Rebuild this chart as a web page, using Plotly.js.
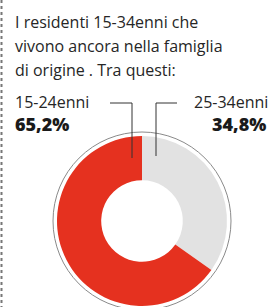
<!DOCTYPE html>
<html>
<head>
<meta charset="utf-8">
<script src="https://cdn.plot.ly/plotly-3.0.1.min.js"></script>
<style>html,body{margin:0;padding:0;background:#fff;}#chart{width:271px;height:307px;}</style>
</head>
<body>
<div id="chart"></div>
<script>
const titleLines = ["I residenti 15-34enni che", "vivono ancora nella famiglia", "di origine . Tra questi:"];
const categories = ["15-24enni", "25-34enni"];
const values = [65.2, 34.8];
const valueLabels = ["65,2%", "34,8%"];
const colors = ["#e5311f", "#e2e2e2"];

const font = "Open Sans, Roboto, sans-serif";
const txt = "#262626";

const annotations = [];
titleLines.forEach((t, i) => {
  annotations.push({xref: 'x', yref: 'y', x: 13, y: 22 + i * 24, text: t, showarrow: false,
    xanchor: 'left', yanchor: 'middle', font: {family: font, size: 16, color: txt}});
});
annotations.push({xref: 'x', yref: 'y', x: 13, y: 102, text: categories[0], showarrow: false,
  xanchor: 'left', yanchor: 'middle', font: {family: font, size: 16, color: txt}});
annotations.push({xref: 'x', yref: 'y', x: 13, y: 124, text: valueLabels[0], showarrow: false,
  xanchor: 'left', yanchor: 'middle', font: {family: font, size: 18, color: '#1a1a1a', weight: 800}});
annotations.push({xref: 'x', yref: 'y', x: 270, y: 102, text: categories[1], showarrow: false,
  xanchor: 'right', yanchor: 'middle', font: {family: font, size: 16, color: txt}});
annotations.push({xref: 'x', yref: 'y', x: 268, y: 124, text: valueLabels[1], showarrow: false,
  xanchor: 'right', yanchor: 'middle', font: {family: font, size: 18, color: '#1a1a1a', weight: 800}});

const shapes = [
  {type: 'line', xref: 'x', yref: 'y', x0: 1.5, x1: 1.5, y0: 0, y1: 307, line: {color: '#777', width: 2, dash: 'dot'}},
  {type: 'circle', xref: 'x', yref: 'y', x0: 53, x1: 231, y0: 132, y1: 310, line: {color: '#8a8a8a', width: 1}, layer: 'below'},
  {type: 'path', xref: 'x', yref: 'y', path: 'M110,103 L132,103 L132,158', line: {color: '#333', width: 1}},
  {type: 'path', xref: 'x', yref: 'y', path: 'M177,103 L156,103 L156,156', line: {color: '#333', width: 1}}
];

// Plotly's counterclockwise mode places the first slice clockwise of 12 o'clock,
// so feed the slices in reverse order: 25-34 on the right, 15-24 on the left.
const data = [{
  type: 'pie',
  labels: categories.slice().reverse(),
  values: values.slice().reverse(),
  marker: {colors: colors.slice().reverse(), line: {width: 0}},
  hole: 0.48,
  sort: false,
  direction: 'counterclockwise',
  rotation: 0,
  textinfo: 'none',
  hoverinfo: 'none',
  showlegend: false,
  domain: {x: [57/271, 227/271], y: [1/307, 171/307]}
}];

const layout = {
  width: 271, height: 307,
  margin: {l: 0, r: 0, t: 0, b: 0},
  paper_bgcolor: '#ffffff', plot_bgcolor: 'rgba(0,0,0,0)',
  xaxis: {range: [0, 271], visible: false, fixedrange: true},
  yaxis: {range: [307, 0], visible: false, fixedrange: true},
  annotations: annotations,
  shapes: shapes,
  showlegend: false
};

Plotly.newPlot('chart', data, layout, {staticPlot: true, displayModeBar: false});
</script>
</body>
</html>
